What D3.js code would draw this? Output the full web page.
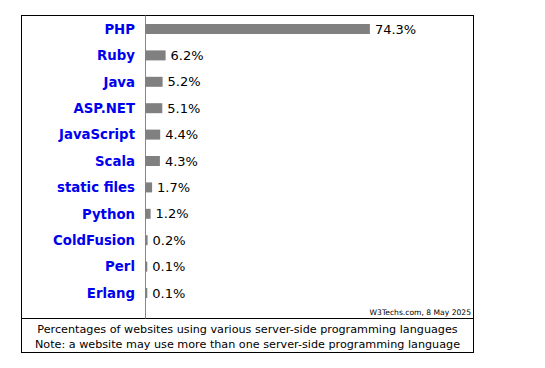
<!DOCTYPE html>
<html><head><meta charset="utf-8">
<script src="https://cdn.jsdelivr.net/npm/d3@7"></script>
<style>body{margin:0;background:#fff}svg{display:block}</style>
</head><body>
<script>
const categories = ["PHP","Ruby","Java","ASP.NET","JavaScript","Scala","static files","Python","ColdFusion","Perl","Erlang"];
const values = [74.3,6.2,5.2,5.1,4.4,4.3,1.7,1.2,0.2,0.1,0.1];
const valueLabels = ["74.3%","6.2%","5.2%","5.1%","4.4%","4.3%","1.7%","1.2%","0.2%","0.1%","0.1%"];
const credit = "W3Techs.com, 8 May 2025";
const footer = ["Percentages of websites using various server-side programming languages","Note: a website may use more than one server-side programming language"];

const W=545,H=368;
const svg=d3.select("body").append("svg").attr("width",W).attr("height",H);
const font="Verdana, 'DejaVu Sans', sans-serif";
const L=21.5,R=473.5,T=15.5,D=318.5,B=352.5,AX=145.5;

const x=d3.scaleLinear().domain([0,100]).range([147,447]);
const y=d3.scalePoint().domain(categories).range([29,293]);

svg.append("rect").attr("x",L).attr("y",T).attr("width",R-L).attr("height",B-T).attr("fill","none").attr("stroke","#000");
svg.append("line").attr("x1",L).attr("x2",R).attr("y1",D).attr("y2",D).attr("stroke","#000");
svg.append("line").attr("x1",AX).attr("x2",AX).attr("y1",T).attr("y2",D).attr("stroke","#888");

const g=svg.append("g");
g.selectAll("rect.bar").data(values).join("rect").attr("class","bar")
 .attr("x",145).attr("y",(d,i)=>y(categories[i])-5).attr("height",10)
 .attr("width",d=>x(d)-145).attr("fill","#808080");
g.selectAll("text.val").data(values).join("text").attr("class","val")
 .attr("x",d=>x(d)+5).attr("y",(d,i)=>y(categories[i])).attr("dy","0.36em")
 .attr("font-family",font).attr("font-size",13).attr("fill","#000")
 .text((d,i)=>valueLabels[i]);
g.selectAll("text.cat").data(categories).join("text").attr("class","cat")
 .attr("x",135).attr("y",d=>y(d)).attr("dy","0.36em").attr("text-anchor","end")
 .attr("font-family",font).attr("font-size",13.3).attr("font-weight","bold").attr("fill","#0000ee")
 .text(d=>d);

svg.append("text").attr("x",471).attr("y",314.5).attr("text-anchor","end")
 .attr("font-family",font).attr("font-size",7.6).attr("fill","#000").text(credit);
svg.selectAll("text.foot").data(footer).join("text").attr("class","foot")
 .attr("x",(L+R)/2).attr("y",(d,i)=>329+i*14.5).attr("dy","0.36em").attr("text-anchor","middle")
 .attr("font-family",font).attr("font-size",11.2).attr("fill","#000").text(d=>d);
</script>
</body></html>
